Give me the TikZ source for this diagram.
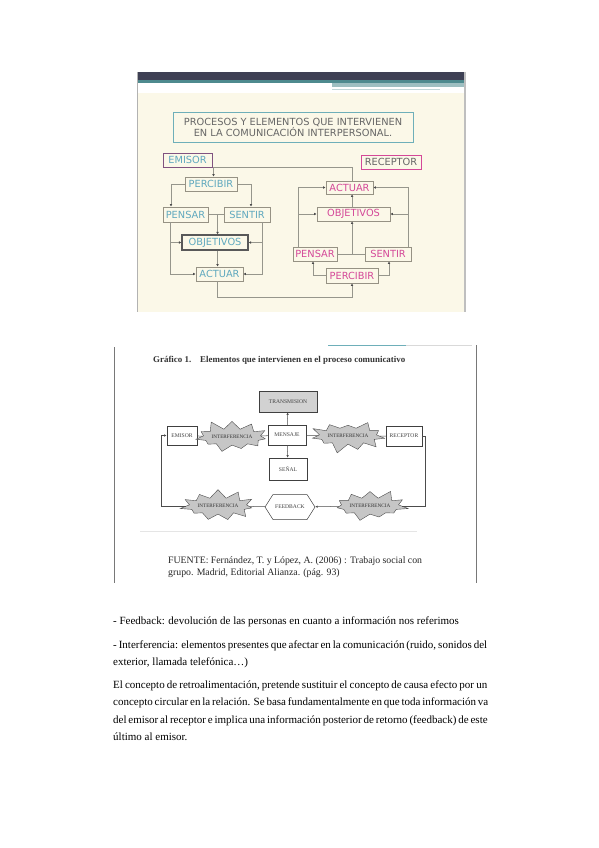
\documentclass[tikz,border=0pt]{standalone}
\usepackage{fontspec}
\setmainfont{Liberation Serif}
\newfontfamily\slidefont{DejaVu Sans}
\usepackage{xcolor}
\usetikzlibrary{positioning, arrows.meta, shapes.symbols, calc}

\definecolor{slidebg}{RGB}{251,248,232}
\definecolor{bardark}{RGB}{62,64,84}
\definecolor{barteal}{RGB}{78,138,142}
\definecolor{titleteal}{RGB}{110,175,185}
\definecolor{emtext}{RGB}{95,168,190}
\definecolor{retext}{RGB}{212,72,152}
\definecolor{boxgray}{RGB}{150,146,132}
\definecolor{linegray}{RGB}{150,150,140}
\definecolor{framegray}{RGB}{120,120,120}

\begin{document}
\begin{tikzpicture}[
    x=1pt, y=-1pt,
    every node/.style={inner sep=1pt},
    slidebox/.style={draw=boxgray, line width=0.8pt, fill=slidebg, font=\slidefont\fontsize{9.8}{10}\selectfont, minimum height=14pt, inner sep=0.5pt},
    em_box/.style={slidebox, text=emtext},
    re_box/.style={slidebox, text=retext},
    link/.style={draw=linegray, line width=0.6pt},
    arr/.style={link, -{Latex[length=2.4pt, width=2.6pt, color=black!70]}},
    figbox/.style={draw=black!75, line width=0.5pt, fill=white, font=\fontsize{5.6}{6}\selectfont, text=black!75},
    burst/.style={starburst, starburst points=11, starburst point height=10pt, draw=black!70, fill=gray!45, line width=0.4pt, font=\fontsize{5.2}{6}\selectfont, text=black!80, inner xsep=0pt, inner ysep=4pt},
    figlink/.style={draw=black!70, line width=0.5pt},
    figarr/.style={figlink, -{Latex[length=2.6pt, width=2.4pt]}},
    bodyline/.style={anchor=base west, inner sep=0pt, font=\fontsize{11}{12}\selectfont},
]

    % page
    \fill[white] (0,0) rectangle (599,848);
    \useasboundingbox (0,0) rectangle (599,848);

    % 1. Slide background and header bar
    \fill[slidebg] (137,93) rectangle (465,312);
    \fill[bardark] (137,72) rectangle (465,80);
    \fill[barteal] (137,80) rectangle (465,83);
    \fill[white] (137,83) rectangle (465,93);
    \fill[barteal!55] (332,83) rectangle (465,87);
    \draw[barteal!35, line width=0.6pt] (332,89.5) -- (440,89.5);
    \draw[gray!60, line width=0.5pt] (137,72) -- (137,312);
    \draw[gray!50, line width=1.2pt] (465,72) -- (465,312);

    % 2. Slide title and actors
    \node[draw=titleteal, line width=1pt, fill=slidebg, minimum width=240pt, minimum height=29pt, align=center, text=black!60, font=\slidefont\fontsize{9.8}{11.5}\selectfont] (title) at (293,127.5) {PROCESOS Y ELEMENTOS QUE INTERVIENEN\\EN LA COMUNICACIÓN INTERPERSONAL.};
    \node[em_box, draw=violet!35!gray, minimum width=49pt] (emisorA) at (187.5,160) {EMISOR};
    \node[slidebox, draw=retext, text=black!60, minimum width=60pt] (receptorA) at (391,162) {RECEPTOR};

    % 3. Emisor side
    \node[em_box, minimum width=52pt] (LPerc) at (211,184) {PERCIBIR};
    \node[em_box, minimum width=45pt, minimum height=15pt] (LPens) at (185.5,214.5) {PENSAR};
    \node[em_box, minimum width=46pt, minimum height=15pt] (LSent) at (247,214.5) {SENTIR};
    \node[em_box, draw=black!65, line width=1.3pt, minimum width=66pt, minimum height=15pt] (LObj) at (215,242.5) {OBJETIVOS};
    \node[em_box, minimum width=47pt] (LAct) at (219.5,274) {ACTUAR};

    % 4. Receptor side
    \node[re_box, minimum width=47pt, minimum height=13pt] (RAct) at (349.5,187.5) {ACTUAR};
    \node[re_box, minimum width=73pt] (RObj) at (353.5,214) {OBJETIVOS};
    \node[re_box, minimum width=44pt] (RPens) at (315,254) {PENSAR};
    \node[re_box, minimum width=46pt] (RSent) at (388,254) {SENTIR};
    \node[re_box, minimum width=52pt, minimum height=15pt] (RPerc) at (352,275.5) {PERCIBIR};

    % --- Slide connections ---
    \coordinate (Ljoin) at ($(LPens.east)!0.6!(LSent.west)$);
    \coordinate (LpensL) at ([xshift=-15pt]LPens.south);
    \coordinate (LsentR) at ([xshift=15pt]LSent.south);
    \draw[arr] (LPerc.west) -| ([xshift=-14.5pt]LPens.north);
    \draw[arr] (LPerc.east) -| ([xshift=4pt]LSent.north);
    \draw[link] (LPens.east) -- (LSent.west);
    \draw[arr] (Ljoin) -- (Ljoin |- LObj.north);
    \draw[arr] (LpensL) |- (LAct.west);
    \draw[arr] (LpensL |- LObj.west) -- (LObj.west);
    \draw[arr] (LsentR) |- (LAct.east);
    \draw[arr] (LsentR |- LObj.east) -- (LObj.east);
    \draw[arr] (LObj.south -| Ljoin) -- (LAct.north -| Ljoin);

    \coordinate (Rjoin) at ($(RPens.east)!0.54!(RSent.west)$);
    \coordinate (RpensL) at ([xshift=-17pt]RPens.north);
    \coordinate (RsentR) at ([xshift=20pt]RSent.north);
    \draw[arr] (RPerc.west) -| ([xshift=-2pt]RPens.south);
    \draw[arr] (RPerc.east) -| ([xshift=1pt]RSent.south);
    \draw[link] (RPens.east) -- (RSent.west);
    \draw[arr] (Rjoin) -- (Rjoin |- RObj.south);
    \draw[arr] (RObj.north -| Rjoin) -- (RAct.south -| Rjoin);
    \draw[arr] (RpensL) |- (RAct.west);
    \draw[arr] (RpensL |- RObj.west) -- (RObj.west);
    \draw[arr] (RsentR) |- (RAct.east);
    \draw[arr] (RsentR |- RObj.east) -- (RObj.east);

    % cross links between the two sides
    \draw[arr] ([xshift=2.5pt]RAct.north) -- ++(0,-13) -| ([xshift=2.5pt]LPerc.north);
    \draw[arr] ([xshift=-2.5pt]LAct.south) -- ++(0,16) -| (RPerc.south);

    % 5. Second figure frame
    \draw[framegray, line width=0.6pt] (114,347) -- (114,583);
    \draw[framegray, line width=0.6pt] (476,345) -- (476,583);
    \draw[titleteal, line width=0.8pt] (328,345) -- (406,345);
    \draw[gray!30, line width=0.5pt] (406,345) -- (472,345);
    \draw[gray!20, line width=0.5pt] (140,531) -- (417,531);
    \node[anchor=west, inner sep=0pt, font=\bfseries\fontsize{8.9}{10}\selectfont, text=black!80] (figtitle) at (153,360) {Gráfico 1.\hspace{6pt} Elementos que intervienen en el proceso comunicativo};

    % 6. Second figure diagram
    \node[figbox, fill=gray!35, minimum width=58pt, minimum height=21pt] (trans) at (288,401.5) {TRANSMISION};
    \node[figbox, minimum width=38pt, minimum height=20pt] (mensaje) at (287,435) {MENSAJE};
    \node[figbox, minimum width=38pt, minimum height=22pt] (senal) at (288,469) {SEÑAL};
    \node[figbox, minimum width=30pt, minimum height=19pt] (emisorB) at (182,435.5) {EMISOR};
    \node[figbox, minimum width=36pt, minimum height=20pt] (receptorB) at (404,436) {RECEPTOR};
    \node[burst, random starburst=11] (intA) at (232,437) {INTERFERENCIA};
    \node[burst, random starburst=23] (intB) at (348,436) {INTERFERENCIA};
    \node[burst, random starburst=37] (intC) at (218,506) {INTERFERENCIA};
    \node[burst, random starburst=51] (intD) at (370,506) {INTERFERENCIA};
    \node[figbox, signal, signal to=east and west, signal pointer angle=115, minimum width=50pt, minimum height=25pt] (feedback) at (290,507) {FEEDBACK};

    % --- Figure connections ---
    \draw[figlink] (emisorB) -- (intA) -- (mensaje) -- (intB) -- (receptorB);
    \draw[figarr] (mensaje) -- (trans);
    \draw[figarr] (mensaje) -- (senal);
    \coordinate (loopR) at ([xshift=3pt]receptorB.east);
    \coordinate (loopL) at ([xshift=-6pt]emisorB.west);
    \draw[figlink] (receptorB.east) -- (loopR) |- (intD);
    \draw[figarr] (intD) -- (feedback);
    \draw[figlink] (feedback) -- (intC);
    \draw[figarr] (intC) -| (loopL) -- (emisorB.west);

    % source
    \node[anchor=north west, inner sep=0pt, align=left, font=\fontsize{9.8}{12}\selectfont, text=black!85] (fuente) at (168,556) {FUENTE: Fernández, T. y López, A. (2006) : Trabajo social con\\grupo. Madrid, Editorial Alianza. (pág. 93)};

    % 7. Body text
    \node[bodyline] (line1) at (113,624) {- Feedback: devolución de las personas en cuanto a información nos referimos};
    \node[bodyline] (line2) at (113,648) {\makebox[374pt][s]{- Interferencia: elementos presentes que afectar en la comunicación (ruido, sonidos del}};
    \node[bodyline] (line3) at (113,665) {exterior, llamada telefónica…)};
    \node[bodyline] (line4) at (113,688) {\makebox[374pt][s]{El concepto de retroalimentación, pretende sustituir el concepto de causa efecto por un}};
    \node[bodyline] (line5) at (113,705) {\makebox[374pt][s]{concepto circular en la relación. Se basa fundamentalmente en que  toda información va}};
    \node[bodyline] (line6) at (113,723) {\makebox[374pt][s]{del emisor al receptor e implica una información posterior de retorno (feedback) de este}};
    \node[bodyline] (line7) at (113,740) {último al emisor.};

\end{tikzpicture}
\end{document}
